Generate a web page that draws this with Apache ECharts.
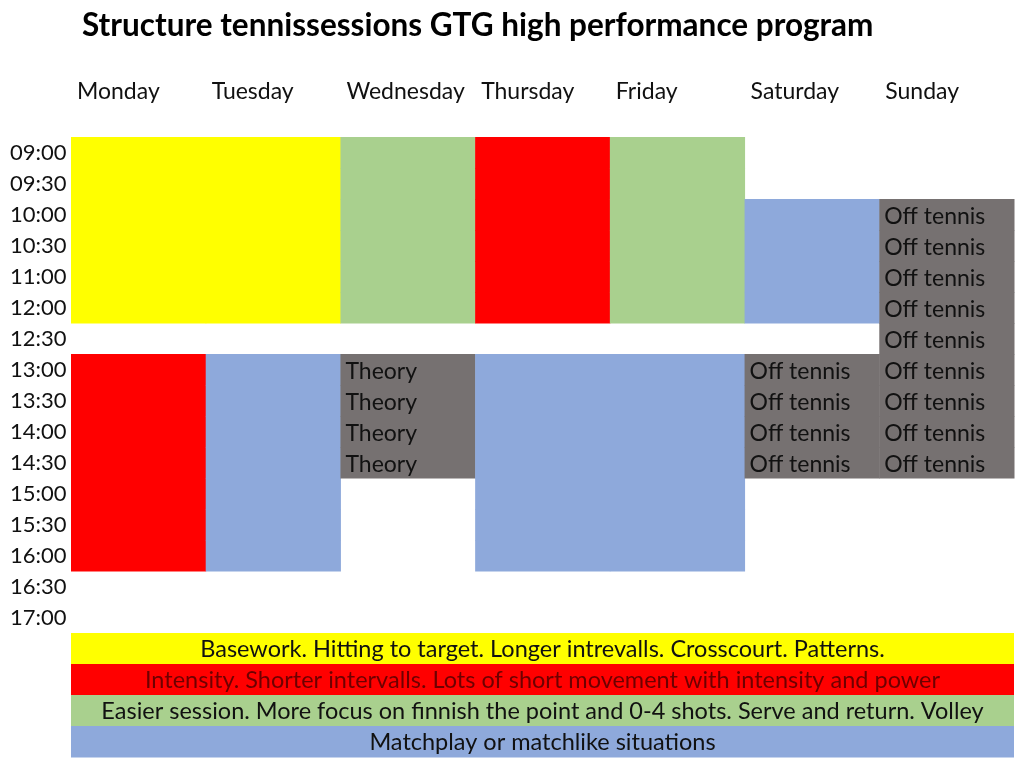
<!DOCTYPE html>
<html><head><meta charset="utf-8">
<script src="https://cdn.jsdelivr.net/npm/echarts@6/dist/echarts.min.js"></script>
<style>html,body{margin:0;padding:0;background:#fff}#c{width:1030px;height:777px}</style>
</head><body><div id="c"></div>
<script>
const title = 'Structure tennissessions GTG high performance program';
const days = ['Monday','Tuesday','Wednesday','Thursday','Friday','Saturday','Sunday'];
const times = ['09:00','09:30','10:00','10:30','11:00','12:00','12:30','13:00','13:30','14:00','14:30','15:00','15:30','16:00','16:30','17:00'];
// Y basework, R intensity, G easier, B matchplay, T theory, O off tennis, '' empty
const monday    = ['Y','Y','Y','Y','Y','Y','','R','R','R','R','R','R','R','',''];
const tuesday   = ['Y','Y','Y','Y','Y','Y','','B','B','B','B','B','B','B','',''];
const wednesday = ['G','G','G','G','G','G','','T','T','T','T','','','','',''];
const thursday  = ['R','R','R','R','R','R','','B','B','B','B','B','B','B','',''];
const friday    = ['G','G','G','G','G','G','','B','B','B','B','B','B','B','',''];
const saturday  = ['','','B','B','B','B','','O','O','O','O','','','','',''];
const sunday    = ['','','O','O','O','O','O','O','O','O','O','','','','',''];
const legendCodes = ['Y','R','G','B'];
const legendTexts = [
  'Basework. Hitting to target. Longer intrevalls. Crosscourt. Patterns.',
  'Intensity. Shorter intervalls. Lots of short movement with intensity and power',
  'Easier session. More focus on finnish the point and 0-4 shots. Serve and return. Volley',
  'Matchplay or matchlike situations'
];
const cellTexts = {T:'Theory', O:'Off tennis'};

const colors = {Y:'#FFFF00', R:'#FF0000', G:'#A9D08E', B:'#8EA9DB', T:'#767171', O:'#767171'};
const legendTextColors = {Y:'#111', R:'#6e0000', G:'#111', B:'#111'};
const schedule = [monday,tuesday,wednesday,thursday,friday,saturday,sunday];
const yCats = times.concat(legendTexts.map(()=>''));

const cellData = [];
schedule.forEach((col, d) => col.forEach((code, s) => { if (code) cellData.push([d, s, code]); }));
const legendData = legendCodes.map((c, k) => [0, times.length + k, c, legendTexts[k]]);

const FONT = 'Lato';
const chart = echarts.init(document.getElementById('c'), null, {renderer:'canvas'});
chart.setOption({
  animation:false,
  title:{text:title, left:77, top:5, textStyle:{fontFamily:FONT, fontWeight:'bold', fontSize:31.5, color:'#000'}},
  grid:{left:71, right:16, top:137, bottom:20},
  xAxis:{type:'value', position:'top', min:0, max:7, interval:1,
    axisLine:{show:false}, axisTick:{show:false}, splitLine:{show:false},
    axisLabel:{formatter:v=>days[v]||'', align:'left', verticalAlign:'middle', margin:45, padding:[0,0,0,6],
      fontFamily:FONT, fontSize:23, color:'#111'}},
  yAxis:{type:'category', inverse:true, data:yCats,
    axisLine:{show:false}, axisTick:{show:false}, splitLine:{show:false},
    axisLabel:{interval:0, align:'left', margin:61, padding:[4,0,0,0], fontFamily:FONT, fontSize:22, color:'#111'}},
  series:[
    {type:'custom', data:cellData, encode:{x:0, y:1},
      renderItem:(params, api) => {
        const d = api.value(0), s = api.value(1), code = cellData[params.dataIndex][2];
        const p = api.coord([d, s]); const sz = api.size([1, 1]);
        const children = [{type:'rect', shape:{x:p[0], y:p[1]-sz[1]/2, width:sz[0]+0.5, height:sz[1]+0.5}, style:{fill:colors[code]}}];
        if (cellTexts[code]) children.push({type:'text', x:p[0]+5, y:p[1]+2, style:{text:cellTexts[code], fill:'#111', font:'23px '+FONT, verticalAlign:'middle', align:'left'}});
        return {type:'group', children};
      }},
    {type:'custom', data:legendData, encode:{x:0, y:1},
      renderItem:(params, api) => {
        const item = legendData[params.dataIndex];
        const p = api.coord([0, api.value(1)]); const sz = api.size([7, 1]);
        return {type:'group', children:[
          {type:'rect', shape:{x:p[0], y:p[1]-sz[1]/2, width:sz[0], height:sz[1]+0.5}, style:{fill:colors[item[2]]}},
          {type:'text', x:p[0]+sz[0]/2, y:p[1]+1, style:{text:item[3], fill:legendTextColors[item[2]], font:'23.5px '+FONT, align:'center', verticalAlign:'middle'}}
        ]};
      }}
  ]
});
</script></body></html>
